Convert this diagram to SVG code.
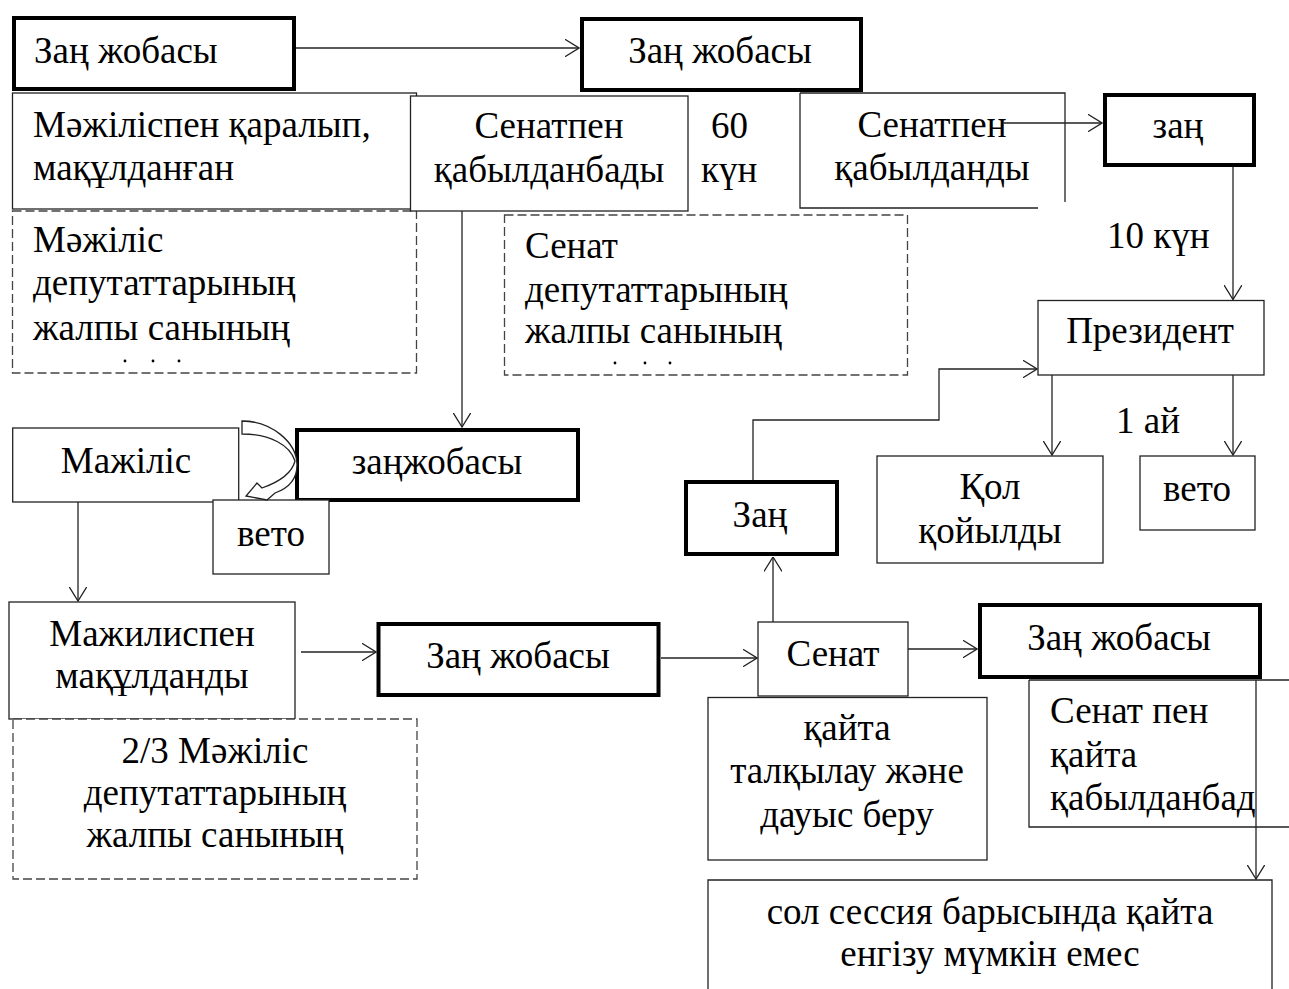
<svg xmlns="http://www.w3.org/2000/svg" width="1289" height="989" viewBox="0 0 1289 989">
<style>
.t{font-family:"Liberation Serif","Times New Roman",serif;font-size:37px;fill:#000}
.m{text-anchor:middle}
.b{fill:#fff;stroke:#000;stroke-width:4}
.n{fill:#fff;stroke:#222;stroke-width:1.3}
.o{fill:none;stroke:#222;stroke-width:1.3}
.d{fill:#fff;stroke:#444;stroke-width:1.3;stroke-dasharray:9 4}
.c{fill:none;stroke:#222;stroke-width:1.3}
.a{marker-end:url(#ah)}
.dot{fill:#000}
</style>
<defs>
<marker id="ah" markerUnits="userSpaceOnUse" viewBox="0 0 15 18" refX="14.5" refY="9" markerWidth="15" markerHeight="18" orient="auto">
<path d="M0,0 L14.5,9 L0,18" fill="none" stroke="#222" stroke-width="1.3"/>
</marker>
</defs>

<g id="majilis-approved">
<rect class="n" x="12.5" y="93" width="404" height="116"/>
<text class="t" x="33" y="137">Мәжіліспен қаралып,</text>
<text class="t" x="33" y="180">мақұлданған</text>
</g>
<g id="zan-jobasy-1">
<rect class="b" x="14" y="18" width="280" height="71"/>
<text class="t" x="34" y="63">Заң жобасы</text>
</g>
<g id="majilis-deputies">
<rect class="d" x="12.5" y="211" width="404" height="162"/>
<text class="t" x="33" y="252">Мәжіліс</text>
<text class="t" x="33" y="295">депутаттарының</text>
<text class="t" x="33" y="340">жалпы санының</text>
<circle class="dot" cx="125" cy="361" r="1.4"/>
<circle class="dot" cx="153" cy="361" r="1.4"/>
<circle class="dot" cx="179" cy="361" r="1.4"/>
</g>
<g id="senate-rejected">
<rect class="n" x="410.5" y="96" width="277.5" height="115"/>
<text class="t m" x="549" y="138">Сенатпен</text>
<text class="t m" x="549" y="182">қабылданбады</text>
</g>
<g id="days-60">
<text class="t" x="711" y="138">60</text>
<text class="t" x="701" y="182">күн</text>
</g>
<g id="senate-accepted">
<path class="o" d="M800,93 H1065 V202 M800,93 V208 H1038"/>
<text class="t m" x="932" y="137">Сенатпен</text>
<text class="t m" x="932" y="180">қабылданды</text>
</g>
<g id="zan-jobasy-2">
<rect class="b" x="582" y="19" width="279" height="71"/>
<text class="t m" x="720" y="63">Заң жобасы</text>
</g>
<g id="zan-top">
<rect class="b" x="1105" y="95" width="149" height="70"/>
<text class="t m" x="1178" y="138">заң</text>
</g>
<g id="days-10">
<text class="t" x="1107" y="248">10 күн</text>
</g>
<g id="senate-deputies">
<rect class="d" x="504.5" y="215" width="403" height="160"/>
<text class="t" x="525" y="258">Сенат</text>
<text class="t" x="525" y="302">депутаттарының</text>
<text class="t" x="525" y="343">жалпы санының</text>
<circle class="dot" cx="615" cy="363" r="1.4"/>
<circle class="dot" cx="645" cy="363" r="1.4"/>
<circle class="dot" cx="670" cy="363" r="1.4"/>
</g>
<g id="president">
<rect class="n" x="1038" y="300.5" width="226" height="74.5"/>
<text class="t m" x="1150" y="343">Президент</text>
</g>
<g id="month-1">
<text class="t" x="1116" y="433">1 ай</text>
</g>
<g id="signed">
<rect class="n" x="877" y="456" width="226" height="107"/>
<text class="t m" x="990" y="499">Қол</text>
<text class="t m" x="990" y="543">қойылды</text>
</g>
<g id="veto-right">
<rect class="n" x="1140" y="456" width="115" height="74"/>
<text class="t m" x="1197" y="501">вето</text>
</g>
<g id="majilis">
<rect class="n" x="12.7" y="428" width="226" height="74"/>
<text class="t m" x="126" y="473">Мажіліс</text>
</g>
<g id="zanjobasy-mid">
<rect class="b" x="297" y="430" width="281" height="70"/>
<text class="t m" x="437" y="474">заңжобасы</text>
</g>
<g id="veto-left">
<rect class="n" x="213" y="500" width="116" height="74"/>
<text class="t m" x="271" y="546">вето</text>
</g>
<g id="veto-curved-arrow">
<path class="n" d="M242,421 C271,421 297,442 297,465 C297,479 289,488 275,493 L267,500 L246,496 L257,483 L262,488 C279,482 292,473 295,461 C290,445 270,434 242,434 Z"/>
</g>
<g id="majilis-approved-2">
<rect class="n" x="9" y="602" width="286" height="117"/>
<text class="t m" x="152" y="646">Мажилиспен</text>
<text class="t m" x="152" y="688">мақұлданды</text>
</g>
<g id="two-thirds">
<rect class="d" x="13" y="719" width="404" height="160"/>
<text class="t m" x="215" y="763">2/3 Мәжіліс</text>
<text class="t m" x="215" y="805">депутаттарының</text>
<text class="t m" x="215" y="847">жалпы санының</text>
</g>
<g id="zan-jobasy-3">
<rect class="b" x="378.5" y="624" width="280" height="71"/>
<text class="t m" x="518" y="668">Заң жобасы</text>
</g>
<g id="senate">
<rect class="n" x="758" y="622" width="150" height="74"/>
<text class="t m" x="833" y="666">Сенат</text>
</g>
<g id="zan-lower">
<rect class="b" x="686" y="482" width="151" height="72"/>
<text class="t m" x="760" y="527">Заң</text>
</g>
<g id="rediscussion">
<rect class="n" x="708" y="697.5" width="279" height="162.5"/>
<text class="t m" x="847" y="740">қайта</text>
<text class="t m" x="847" y="783">талқылау және</text>
<text class="t m" x="847" y="827">дауыс беру</text>
</g>
<g id="senate-rejected-again">
<path class="o" d="M1029,680 V827 H1290 M1029,680 H1290"/>
<text class="t" x="1050" y="723">Сенат пен</text>
<text class="t" x="1050" y="767">қайта</text>
<text class="t" x="1050" y="810">қабылданбад</text>
</g>
<g id="zan-jobasy-4">
<rect class="b" x="980" y="605" width="280" height="72"/>
<text class="t m" x="1119" y="650">Заң жобасы</text>
</g>
<g id="no-reintroduction">
<path class="o" d="M708,995 V880 H1272 V995"/>
<text class="t m" x="990" y="924">сол сессия барысында қайта</text>
<text class="t m" x="990" y="966">енгізу мүмкін емес</text>
</g>

<g id="connectors">
<path class="c a" d="M296,48 H579"/>
<path class="c a" d="M1003,123 H1102"/>
<path class="c a" d="M1233,167 V299.5"/>
<path class="c a" d="M462,211 V427"/>
<path class="c a" d="M78,502 V601"/>
<path class="c a" d="M301,652 H376"/>
<path class="c a" d="M661,658 H757"/>
<path class="c a" d="M908,649 H977"/>
<path class="c a" d="M773,622 V557"/>
<path class="c a" d="M753,480 V420 H939 V369 H1037"/>
<path class="c a" d="M1052,375 V455"/>
<path class="c a" d="M1233,375 V455"/>
<path class="c a" d="M1256,680 V879"/>
</g>
</svg>
